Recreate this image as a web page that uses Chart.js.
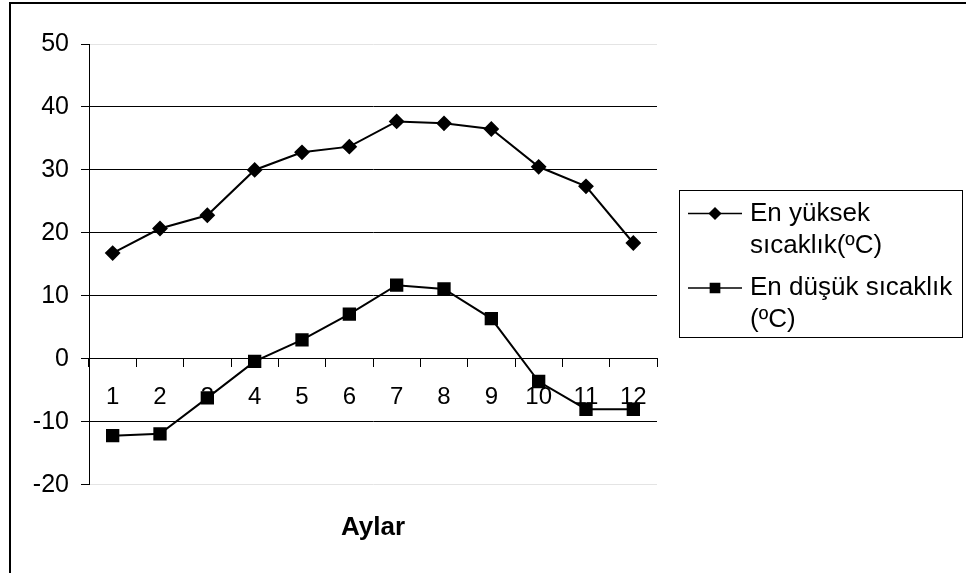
<!DOCTYPE html>
<html>
<head>
<meta charset="utf-8">
<script src="https://cdn.jsdelivr.net/npm/chart.js@4.4.0/dist/chart.umd.min.js"></script>
<style>
  html, body { margin: 0; padding: 0; background: #fff; }
</style>
</head>
<body>
<canvas id="chart" width="966" height="573"></canvas>
<script>
const months = ['1', '2', '3', '4', '5', '6', '7', '8', '9', '10', '11', '12']
const highTemps = [16.8, 20.7, 22.8, 30.0, 32.8, 33.7, 37.7, 37.4, 36.5, 30.5, 27.4, 18.4]
const lowTemps = [-12.2, -11.9, -6.2, -0.4, 3.0, 7.1, 11.7, 11.1, 6.4, -3.6, -8.0, -8.0]
const seriesNames = [['En yüksek', 'sıcaklık(ºC)'], ['En düşük sıcaklık', '(ºC)']]
const yMin = -20
const yMax = 50
const yStep = 10
const axisTitle = 'Aylar'

const FONT = '"Liberation Sans", Arial, sans-serif'

// frame lines (left + top, the rest is cut off in the picture)
const frame = {
  id: 'frame',
  beforeDraw(chart) {
    const ctx = chart.ctx
    ctx.save()
    ctx.fillStyle = '#fff'
    ctx.fillRect(0, 0, chart.width, chart.height)
    ctx.fillStyle = '#000'
    ctx.fillRect(9, 2, 2, chart.height - 2)
    ctx.fillRect(9, 2, chart.width - 9, 2)
    ctx.restore()
  }
}

// boxed legend on the right with wrapped names
const sideLegend = {
  id: 'sideLegend',
  afterDraw(chart) {
    const ctx = chart.ctx
    ctx.save()
    ctx.strokeStyle = '#000'
    ctx.lineWidth = 1
    ctx.strokeRect(679.5, 190.5, 283, 147)
    ctx.font = '26px ' + FONT
    ctx.textBaseline = 'middle'
    ctx.textAlign = 'left'
    chart.data.datasets.forEach((ds, i) => {
      const y = 213.5 + i * 74.5
      ctx.strokeStyle = '#000'
      ctx.fillStyle = '#000'
      ctx.lineWidth = 1.5
      ctx.beginPath()
      ctx.moveTo(688, y)
      ctx.lineTo(742, y)
      ctx.stroke()
      Chart.helpers.drawPoint(ctx, {
        pointStyle: ds.pointStyle,
        radius: ds.pointStyle === 'rect' ? 6.5 : 5.5,
        rotation: 0,
        borderWidth: 1
      }, 715, y)
      seriesNames[i].forEach((line, j) => {
        ctx.fillText(line, 750, y + j * 32)
      })
    })
    ctx.restore()
  }
}

const ctx = document.getElementById('chart')
new Chart(ctx, {
  type: 'line',
  data: {
    labels: months,
    datasets: [{
      label: seriesNames[0].join(' '),
      data: highTemps,
      borderColor: '#000',
      borderWidth: 2,
      backgroundColor: '#000',
      pointStyle: 'rectRot',
      pointRadius: 6.5,
      pointBackgroundColor: '#000',
      pointBorderColor: '#000',
      tension: 0,
      fill: false
    }, {
      label: seriesNames[1].join(' '),
      data: lowTemps,
      borderColor: '#000',
      borderWidth: 2,
      backgroundColor: '#000',
      pointStyle: 'rect',
      pointRadius: 8,
      pointBackgroundColor: '#000',
      pointBorderColor: '#000',
      tension: 0,
      fill: false
    }]
  },
  options: {
    responsive: false,
    animation: false,
    devicePixelRatio: 1,
    layout: { padding: { left: 0, right: 309, top: 44, bottom: 20 } },
    plugins: {
      legend: { display: false },
      tooltip: { enabled: false },
      title: {
        display: true,
        text: axisTitle,
        position: 'bottom',
        fullSize: false,
        color: '#000',
        font: { family: FONT, size: 26, weight: 'bold' },
        padding: { top: 27, bottom: 10 }
      }
    },
    scales: {
      x: {
        type: 'category',
        position: { y: 0 },
        offset: true,
        grid: { drawOnChartArea: false, drawTicks: true, tickLength: 8, color: '#000', offset: true },
        border: { color: '#000', width: 1 },
        ticks: { color: '#000', font: { family: FONT, size: 24 }, padding: 16, maxRotation: 0, autoSkip: false }
      },
      y: {
        min: yMin,
        max: yMax,
        afterFit(scale) { scale.width = 89 },
        grid: {
          color: c => (c.tick && (c.tick.value === yMin || c.tick.value === yMax)) ? '#e4e4e4' : '#000',
          tickColor: '#000',
          tickLength: 8,
          lineWidth: 1
        },
        border: { color: '#000', width: 1 },
        ticks: { stepSize: yStep, color: '#000', font: { family: FONT, size: 25 }, padding: 12 }
      }
    }
  },
  plugins: [frame, sideLegend]
})
</script>
</body>
</html>
